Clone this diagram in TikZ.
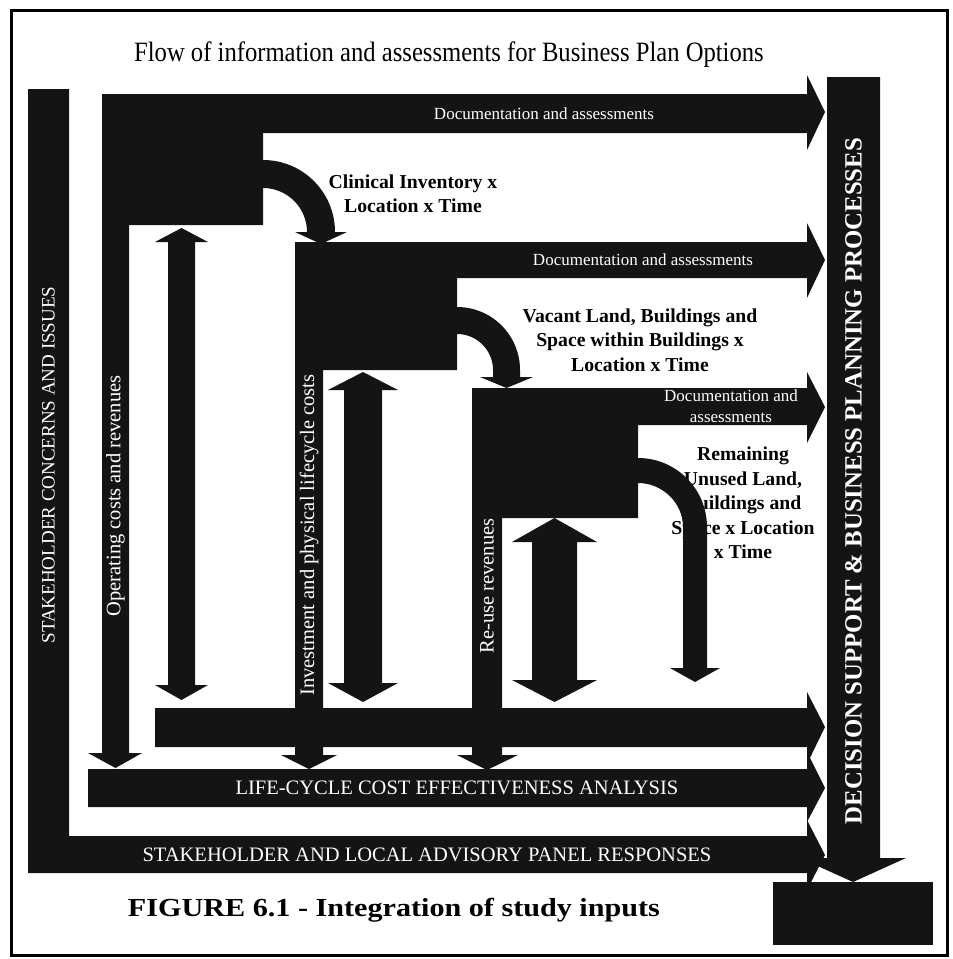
\documentclass[tikz,border=0pt]{standalone}
\usepackage{fontspec}
\setmainfont{Liberation Serif}
\newfontfamily\titlefont[FakeStretch=0.88]{Liberation Serif}
\newfontfamily\capfont[FakeStretch=1.16]{Liberation Serif}
\usepackage{tikz}
\usetikzlibrary{positioning}

\begin{document}
\begin{tikzpicture}[x=1pt, y=-1pt, blk/.style={fill=black!92}, barlbl/.style={text=white, inner sep=0pt, font=\fontsize{20.5}{22}\selectfont}, doclbl/.style={text=white, inner sep=0pt, align=center, font=\fontsize{17}{20.5}\selectfont}, flowlbl/.style={inner sep=0pt, align=center, font=\bfseries\fontsize{19.7}{24.5}\selectfont}]
\useasboundingbox (0,0) rectangle (953,959);
\draw[line width=3pt] (11,10) rectangle (947,955);
\node[font=\titlefont\fontsize{28}{30}\selectfont] (title) at (449,55) {Flow of information and assessments for Business Plan Options};
% labels beside the curved arrows (the last one is partly hidden by its arrow)
\node[flowlbl] (clinical) at (413,194) {Clinical Inventory x\\Location x Time};
\node[flowlbl] (vacant) at (640,340) {Vacant Land, Buildings and\\Space within Buildings x\\Location x Time};
\node[flowlbl] (remain) at (743,503) {Remaining\\Unused Land,\\Buildings and\\Space x Location\\x Time};
% stakeholder bar, turning into the bottom arrow
\fill[blk] (28,89)--(69,89)--(69,836)--(807,836)--(807,820)--(825,855)--(807,890)--(807,873)--(28,873)--cycle;
% documentation arrows
\fill[blk] (263,94)--(807,94)--(807,75)--(825,112)--(807,150)--(807,133)--(263,133)--cycle;
\fill[blk] (457,242)--(807,242)--(807,223)--(825,260)--(807,298)--(807,278)--(457,278)--cycle;
\fill[blk] (638,388)--(807,388)--(807,372)--(825,407)--(807,443)--(807,425)--(638,425)--cycle;
% blank arrow and life-cycle arrow
\fill[blk] (155,708)--(807,708)--(807,692)--(825,727)--(807,764)--(807,747)--(155,747)--cycle;
\fill[blk] (88,769)--(807,769)--(807,752)--(825,788)--(807,822)--(807,807)--(88,807)--cycle;
% the three boxes with their cost arrows
\fill[blk] (102,94)--(263,94)--(263,225)--(129,225)--(129,753)--(142,753)--(115.5,768)--(88,753)--(102,753)--cycle;
\fill[blk] (295,242)--(457,242)--(457,370)--(323,370)--(323,755)--(337,755)--(309,769)--(281,755)--(295,755)--cycle;
\fill[blk] (472,388)--(638,388)--(638,518)--(502,518)--(502,755)--(518,755)--(487,770)--(457,755)--(472,755)--cycle;
% double arrows
\fill[blk] (181.5,228)--(208,242)--(195,242)--(195,685)--(208,685)--(181.5,700)--(155,685)--(168,685)--(168,242)--(155,242)--cycle;
\fill[blk] (363,372)--(398,390)--(382,390)--(382,683)--(398,683)--(363,702)--(328,683)--(344,683)--(344,390)--(328,390)--cycle;
\fill[blk] (554.5,518)--(597,542)--(577,542)--(577,680)--(597,680)--(554.5,702)--(512,680)--(532,680)--(532,542)--(512,542)--cycle;
% curved arrows
\fill[blk] (263,160) .. controls (302.8,160) and (335,192.2) .. (335,232)--(347,232)--(321,244)--(295,232)--(307,232) .. controls (307,207.7) and (287.3,188) .. (263,188)--cycle;
\fill[blk] (457,307) .. controls (491.8,307) and (520,335.2) .. (520,370)--(520,377)--(533,377)--(506.5,388)--(480,377)--(493,377)--(493,370) .. controls (493,350.1) and (476.9,334) .. (457,334)--cycle;
\fill[blk] (638,458) .. controls (676.1,458) and (707,488.9) .. (707,527)--(707,668)--(720,668)--(695,682)--(670,668)--(683,668)--(683,527) .. controls (683,502.7) and (662.3,483) .. (638,483)--cycle;
% decision bar and end box
\fill[blk] (827,77)--(880,77)--(880,858)--(906,858)--(853,882)--(800,858)--(827,858)--cycle;
\fill[blk] (773,882) rectangle (933,945);
% texts in the bars
\node[doclbl] (doc1) at (544,114) {Documentation and assessments};
\node[doclbl] (doc2) at (643,260) {Documentation and assessments};
\node[doclbl] (doc3) at (731,406) {Documentation and\\assessments};
\node[barlbl] (lcca) at (457,788) {LIFE-CYCLE COST EFFECTIVENESS ANALYSIS};
\node[barlbl] (panel) at (427,855) {STAKEHOLDER AND LOCAL ADVISORY PANEL RESPONSES};
\node[barlbl, rotate=90, font=\fontsize{19}{21}\selectfont] (concerns) at (48.5,465) {STAKEHOLDER CONCERNS AND ISSUES};
\node[barlbl, rotate=90] (opcost) at (115.5,496) {Operating costs and revenues};
\node[barlbl, rotate=90] (invcost) at (309,535) {Investment and physical lifecycle costs};
\node[barlbl, rotate=90] (reuse) at (487,586) {Re-use revenues};
\node[barlbl, rotate=90, font=\bfseries\fontsize{24.8}{26}\selectfont] (dsbp) at (853.5,481) {DECISION SUPPORT \& BUSINESS PLANNING PROCESSES};
\node[font=\capfont\bfseries\fontsize{26}{28}\selectfont] (caption) at (394,910) {FIGURE 6.1 - Integration of study inputs};
\end{tikzpicture}
\end{document}
